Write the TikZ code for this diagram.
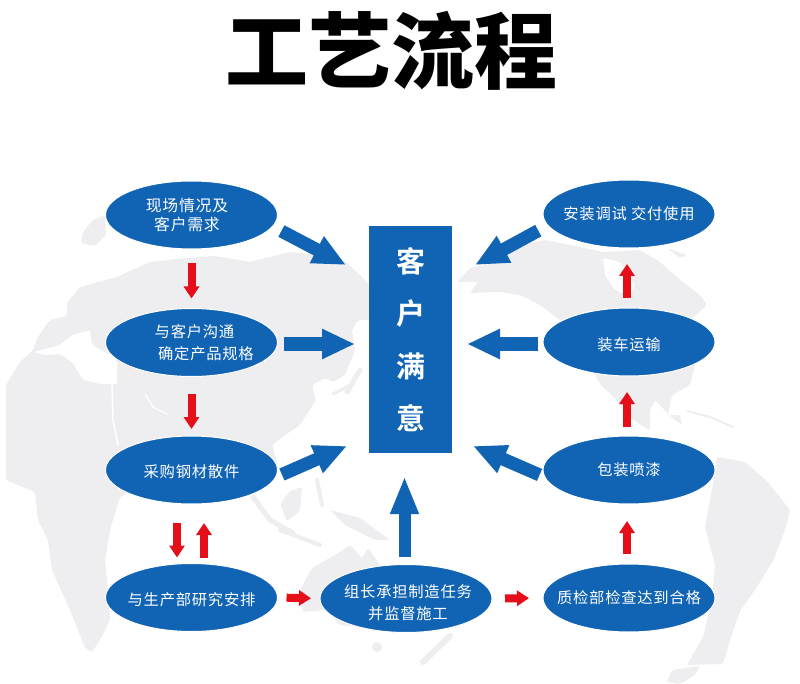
\documentclass[tikz,border=0pt]{standalone}
\usepackage{fontspec}
\usetikzlibrary{arrows.meta,shapes.geometric}
\setmainfont[LetterSpace=5]{Noto Sans CJK SC}
\newfontfamily\titlefont{Noto Sans CJK SC Black}
\newfontfamily\custfont[BoldFont=*]{Noto Sans CJK SC Bold}
\newcommand\topstrut[1]{\rule{0pt}{#1}}
\definecolor{procblue}{HTML}{1164B4}
\definecolor{procred}{HTML}{E50F19}
\definecolor{mapgray}{HTML}{EEEEF0}
\tikzset{
  x=1pt,y=-1pt,
  land/.style={fill=mapgray,draw=none,rounded corners=2pt},
  landline/.style={draw=mapgray,line cap=round,line join=round},
  seaarea/.style={fill=white,draw=none,rounded corners=2pt},
  sealine/.style={draw=white,line cap=round,line join=round},
  proc/.style={ellipse,fill=procblue,draw=white,line width=1pt,minimum width=172pt,minimum height=68pt,
    inner xsep=-35pt,inner ysep=-12pt,outer sep=0pt,text=white,font=\fontsize{15.3}{20}\selectfont,align=center},
  goal/.style={rectangle,fill=procblue,minimum width=83pt,minimum height=227pt,inner sep=0pt,
    text=white,align=center,font=\custfont\fontsize{29}{52.5}\selectfont},
  bigarrow/.style={draw=procblue,line width=13pt,-{Triangle[length=33pt,width=28pt]}},
  uparrow/.style={draw=procblue,line width=12pt,-{Triangle[length=38pt,width=26pt]}},
  redarrow/.style={draw=procred,line width=8pt,-{Triangle[length=12pt,width=15pt]}},
}
\begin{document}
\begin{tikzpicture}
\useasboundingbox (0,0) rectangle (800,684);
\fill[white] (0,0) rectangle (800,684);
% map: Eurasia and Africa
\path[land] (6,385)--(20,362)--(33,350)--(38,337)--(50,320)--(67,316)--(67,303)--(80,287)--(117,277)--(150,262)--(187,258)--(215,256)--(250,262)--(290,252)--(320,255)--(346,262)--(360,275)--(369,285)--(369,320)--(358,320)--(352,330)--(355,350)--(345,375)--(333,382)--(325,378)--(312,385)--(316,400)--(300,425)--(285,435)--(272,445)--(278,465)--(255,495)--(235,480)--(180,470)--(120,497)--(110,530)--(105,560)--(108,590)--(110,620)--(100,640)--(92,652)--(85,648)--(70,610)--(52,570)--(48,540)--(38,520)--(35,492)--(6,480)--cycle;
\path[seaarea] (34,352)--(60,345)--(72,335)--(90,330)--(92,345)--(105,352)--(117,360)--(117,384)--(100,384)--(83,380)--(72,362)--(60,354)--(45,355)--cycle;
\draw[sealine,line width=1.5pt] (112,385)--(113,420)--(118,445);
\draw[sealine,line width=1.2pt] (145,394)--(153,407)--(167,414);
% map: N. America
\path[land] (457,282)--(470,268)--(500,262)--(520,245)--(545,240)--(580,247)--(603,252)--(640,250)--(660,262)--(680,280)--(700,295)--(707,305)--(690,320)--(700,345)--(690,385)--(672,395)--(668,415)--(680,415)--(682,425)--(672,418)--(655,400)--(650,410)--(650,430)--(640,425)--(628,415)--(615,398)--(600,384)--(590,365)--(560,320)--(540,305)--(520,295)--(500,292)--(470,293)--(478,282)--cycle;
\path[seaarea] (603,258)--(620,262)--(635,285)--(630,297)--(615,290)--(605,275)--cycle;
\path[land] (667,248)--(687,255)--(680,258)--cycle;
\draw[landline,line width=2pt] (687,411)--(710,417)--(733,427);
% map: S. America and below
\path[land] (717,457)--(745,462)--(767,481)--(790,510)--(785,530)--(773,561)--(755,590)--(740,611)--(730,640)--(723,664)--(687,665)--(703,637)--(712,600)--(715,565)--(705,527)--(713,484)--cycle;
\path[land] (667,682)--(672,670)--(700,666)--(695,675)--(680,684)--cycle;
% map: Australasia
\path[land] (303,612)--(300,590)--(312,568)--(335,555)--(350,545)--(362,558)--(368,548)--(380,565)--(400,600)--(390,630)--(340,625)--(325,610)--cycle;
\fill[mapgray] (377,647) circle (5);
\draw[landline,line width=6pt] (423,662)--(450,636);
\path[land] (280,504)--(290,491)--(302,487)--(300,511)--(287,521)--cycle;
\draw[landline,line width=5pt] (253,497)--(270,520)--(293,533);
\draw[landline,line width=4pt] (280,530)--(320,545);
\path[land] (330,510)--(360,518)--(390,540)--(375,540)--(345,525)--cycle;
\draw[landline,line width=4pt] (317,480)--(322,505);
\draw[landline,line width=5pt] (347,392)--(360,370);
\draw[landline,line width=3pt] (333,394)--(353,384);
\path[land] (81,243)--(83,232)--(93,220)--(105,215)--(106,235)--(95,246)--cycle;

% title
\node[font=\titlefont\fontsize{83}{83}\selectfont,text=black,inner sep=0pt] (title) at (391,51) {工艺流程};

% processes
\node[proc,font=\fontsize{15.8}{19.5}\selectfont] (e1) at (191.5,215) {现场情况及\hspace*{9pt}\\客户需求\hspace*{9pt}};
\node[proc,font=\fontsize{15.3}{22}\selectfont] (e2) at (191.5,342.5) {\hspace*{6pt}与客户沟通\\\hspace*{29pt}确定产品规格};
\node[proc] (e3) at (191.5,470) {\topstrut{17pt}采购钢材散件};
\node[proc] (e4) at (191.5,597.5) {\topstrut{17.5pt}与生产部研究安排};
\node[proc,font=\fontsize{15.3}{21.5}\selectfont] (e5) at (406,598.5) {\topstrut{21pt}\hspace*{4pt}组长承担制造任务\\\hspace*{4pt}并监督施工};
\node[proc] (e6) at (629,598) {质检部检查达到合格};
\node[proc] (e7) at (629,470) {包装喷漆};
\node[proc] (e8) at (629,342) {\topstrut{17.5pt}装车运输};
\node[proc] (e9) at (629,214) {安装调试 交付使用};
\node[goal] (cust) at (410.5,339.5) {客\\户\\满\\意};

% free ends at the goal box
\coordinate (t1) at (346,265);
\coordinate (t2) at (355,344);
\coordinate (t3) at (347,446);
\coordinate (t4) at (404.5,476);
\coordinate (t5) at (475,265);
\coordinate (t6) at (467,344);
\coordinate (t7) at (473,446);

% blue arrows
\draw[bigarrow,shorten <=10pt] (e1.-8) -- (t1);
\draw[bigarrow,shorten <=6pt] ([yshift=-1.5pt]e2.east) -- (t2);
\draw[bigarrow,shorten <=7pt] (e3.-5) -- (t3);
\draw[uparrow,shorten <=8pt] ([xshift=-1.5pt]e5.north) -- (t4);
\draw[bigarrow,shorten <=11pt] (e9.188) -- (t5);
\draw[bigarrow,shorten <=5pt] ([yshift=-2pt]e8.west) -- (t6);
\draw[bigarrow,shorten <=6pt] (e7.185) -- (t7);

% red arrows
\draw[redarrow,shorten <=14pt,shorten >=10pt] (e1.south) -- (e2.north);
\draw[redarrow,shorten <=17pt,shorten >=7pt] (e2.south) -- (e3.north);
\draw[redarrow,shorten <=19pt,shorten >=6pt] ([xshift=-14.5pt]e3.south) -- ([xshift=-14.5pt]e4.north);
\draw[redarrow,shorten <=6pt,shorten >=19pt] ([xshift=12.5pt]e4.north) -- ([xshift=12.5pt]e3.south);
\draw[redarrow,shorten <=9pt,shorten >=9pt] (e4.east) -- (e5.west);
\draw[redarrow,shorten <=13pt,shorten >=14pt] (e5.east) -- (e6.west);
\draw[redarrow,shorten <=10pt,shorten >=17pt] ([xshift=-2pt]e6.north) -- ([xshift=-2pt]e7.south);
\draw[redarrow,shorten <=9pt,shorten >=16pt] ([xshift=-2pt]e7.north) -- ([xshift=-2pt]e8.south);
\draw[redarrow,shorten <=10pt,shorten >=16pt] ([xshift=-2pt]e8.north) -- ([xshift=-2pt]e9.south);
\end{tikzpicture}
\end{document}
